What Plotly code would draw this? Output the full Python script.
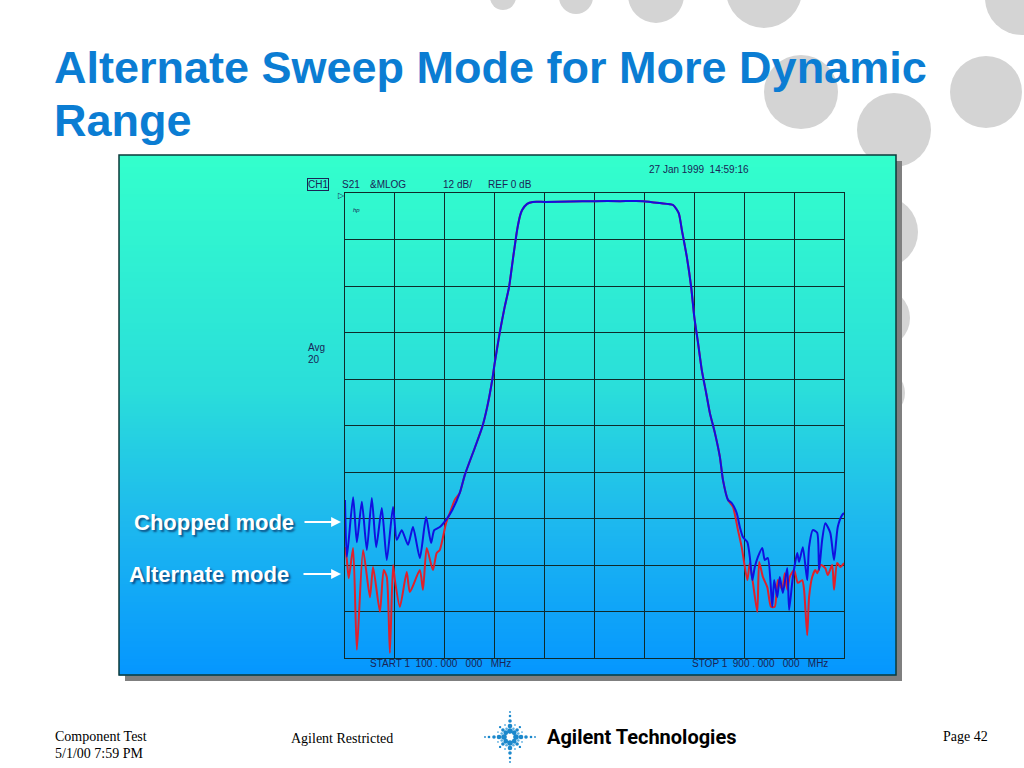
import math
import plotly.graph_objects as go

# ---------------- data ----------------
# Chopped mode (blue) - noise floor left of the passband
blue_left_f = [1100, 1103, 1113, 1119, 1127, 1135, 1143, 1150, 1159, 1167, 1177,
               1183, 1191, 1201, 1209, 1220, 1230, 1238, 1243, 1252, 1264, 1272]
blue_left_db = [-79.2, -93.9, -78.5, -90.1, -79.7, -92.1, -78.7, -91.4, -81.3, -94.7, -81.0,
                -89.5, -87.0, -90.8, -86.2, -94.2, -83.6, -90.3, -87.0, -86.2, -83.9, -81.8]

# Alternate mode (red) - noise floor left of the passband
red_left_f = [1100, 1103, 1106, 1113, 1119, 1129, 1140, 1145, 1156, 1162, 1167, 1172, 1177,
              1180, 1188, 1199, 1204, 1220, 1225, 1231, 1241, 1247, 1252, 1262, 1268, 1276]
red_left_db = [-91.4, -94.7, -99.4, -91.6, -117.9, -92.1, -104.3, -96.5, -108.1, -97.3, -99.1,
               -118.7, -96.0, -99.9, -106.8, -97.8, -103.0, -97.3, -102.4, -91.6, -97.3,
               -92.9, -92.1, -85.2, -82.6, -79.2]

# Filter response common to both modes
shared_f = [1284, 1292, 1308, 1320, 1328, 1336, 1340, 1348, 1356, 1363, 1369, 1376, 1381,
            1384, 1392, 1401, 1421, 1461, 1501, 1541, 1578, 1605, 1626, 1635, 1640, 1648,
            1655, 1660, 1666, 1672, 1679, 1685, 1693, 1701, 1706]
shared_db = [-77.4, -72.8, -65.8, -60.4, -55.2, -48.3, -43.9, -36.1, -29.4, -24.3, -17.3,
             -9.5, -5.7, -4.4, -2.8, -2.3, -2.3, -2.2, -2.1, -2.1, -2.1, -2.6, -3.1, -5.2,
             -9.5, -16.5, -24.3, -32.0, -38.7, -45.7, -51.6, -56.8, -61.9, -68.1, -74.1]

# Chopped mode (blue) - noise floor right of the passband
blue_right_f = [1714, 1720, 1728, 1733, 1738, 1745, 1749, 1753, 1757, 1762, 1769, 1773,
                1778, 1785, 1788, 1793, 1797, 1802, 1809, 1812, 1818, 1825, 1828, 1834,
                1841, 1844, 1850, 1857, 1860, 1865, 1870, 1878, 1884, 1890, 1897, 1900]
blue_right_db = [-79.2, -80.0, -82.6, -86.2, -88.8, -90.1, -93.9, -99.9, -96.5, -93.9, -91.6,
                 -94.7, -94.2, -106.8, -99.9, -104.3, -99.1, -103.2, -96.8, -107.6, -99.1,
                 -92.9, -95.2, -91.4, -99.9, -91.4, -87.0, -87.7, -97.3, -89.5, -85.2,
                 -87.7, -94.7, -86.2, -83.1, -82.6]

# Alternate mode (red) - noise floor right of the passband
red_right_f = [1714, 1722, 1730, 1736, 1745, 1749, 1754, 1761, 1764, 1770, 1777, 1783,
               1789, 1794, 1801, 1805, 1809, 1813, 1820, 1826, 1833, 1836, 1841, 1844,
               1849, 1854, 1857, 1863, 1870, 1874, 1881, 1884, 1889, 1894, 1900]
red_right_db = [-79.2, -81.0, -87.0, -91.4, -99.9, -95.5, -100.6, -108.1, -95.2, -99.1,
                -101.7, -106.8, -106.8, -99.9, -102.4, -98.1, -102.4, -99.1, -97.3, -100.6,
                -99.9, -102.4, -114.1, -104.3, -99.1, -97.3, -98.1, -96.0, -96.8, -98.6,
                -96.0, -102.4, -95.5, -96.5, -95.5]

start_mhz = 1100
stop_mhz = 1900
scale_db = 12
ref_db = 0
n_div = 10

title_lines = ["Alternate Sweep Mode for More Dynamic", "Range"]
header_text = ["CH1", "S21", "&MLOG", "12 dB/", "REF 0 dB"]
timestamp = "27 Jan 1999  14:59:16"
start_label = "START 1\u00a0 100\u00a0.\u00a0000\u00a0\u00a0 000\u00a0\u00a0 MHz"
stop_label = "STOP 1\u00a0 900\u00a0.\u00a0000\u00a0\u00a0 000\u00a0\u00a0 MHz"

# ---------------- helpers ----------------
W, H = 1024, 768


def fx(x):
    return x / W


def fy(y):
    return 1 - y / H


shapes = []

# background decorative grey circles
circles = [(503, -3, 13), (576, -3, 17), (656, -5, 28), (764, -10, 38), (1022, -2, 37),
           (801, 92, 37), (986, 92, 36), (894, 130, 37), (882, 232, 36), (880, 318, 30),
           (880, 393, 25)]
for cx, cy, r in circles:
    shapes.append(dict(type="circle", xref="paper", yref="paper",
                       x0=fx(cx - r), x1=fx(cx + r), y0=fy(cy + r), y1=fy(cy - r),
                       fillcolor="#D4D4D4", line=dict(width=0), layer="below"))

# panel shadow
PX0, PX1, PY0, PY1 = 119, 896, 155, 675
shapes.append(dict(type="rect", xref="paper", yref="paper",
                   x0=fx(PX0 + 6), x1=fx(PX1 + 6), y0=fy(PY1 + 6), y1=fy(PY0 + 6),
                   fillcolor="#7F7F7F", line=dict(width=0), layer="below"))

# gradient panel built from thin strips
stops = [(0.0, (51, 255, 204)), (0.45, (42, 222, 218)), (0.7, (30, 185, 238)), (1.0, (5, 150, 255))]


def grad(t):
    for (t0, c0), (t1, c1) in zip(stops[:-1], stops[1:]):
        if t <= t1:
            u = (t - t0) / (t1 - t0)
            return tuple(round(a + (b - a) * u) for a, b in zip(c0, c1))
    return stops[-1][1]


step = 3
y = PY0
while y < PY1:
    y2 = min(y + step, PY1)
    t = ((y + y2) / 2 - PY0) / (PY1 - PY0)
    c = grad(t)
    shapes.append(dict(type="rect", xref="paper", yref="paper",
                       x0=fx(PX0), x1=fx(PX1), y0=fy(y2 + 0.6), y1=fy(y),
                       fillcolor="rgb(%d,%d,%d)" % c, line=dict(width=0), layer="below"))
    y = y2
shapes.append(dict(type="rect", xref="paper", yref="paper",
                   x0=fx(PX0), x1=fx(PX1), y0=fy(PY1), y1=fy(PY0),
                   fillcolor="rgba(0,0,0,0)", line=dict(color="#0B3A3A", width=1.5), layer="below"))

# Agilent spark logo (decorative)
LX, LY = 510, 737
spark_col = "#1B88CC"
for k in range(8):
    ang = k * math.pi / 4
    main = (k % 2 == 0)
    dists = [6, 11, 16, 21, 25] if main else [6, 10, 14]
    sizes = [2.8, 2.3, 1.8, 1.3, 0.9] if main else [2.4, 1.8, 1.2]
    for d, s in zip(dists, sizes):
        cx = LX + d * math.cos(ang)
        cy = LY - d * math.sin(ang)
        shapes.append(dict(type="circle", xref="paper", yref="paper",
                           x0=fx(cx - s), x1=fx(cx + s), y0=fy(cy + s), y1=fy(cy - s),
                           fillcolor=spark_col, line=dict(width=0), layer="above"))
for k in range(8):
    ang = k * math.pi / 4 + math.pi / 8
    for d, s in zip([9, 13], [1.3, 0.9]):
        cx = LX + d * math.cos(ang)
        cy = LY - d * math.sin(ang)
        shapes.append(dict(type="circle", xref="paper", yref="paper",
                           x0=fx(cx - s), x1=fx(cx + s), y0=fy(cy + s), y1=fy(cy - s),
                           fillcolor="#5AAEE0", line=dict(width=0), layer="above"))

# ---------------- figure ----------------
fig = go.Figure()
fig.add_trace(go.Scatter(
    x=red_left_f + shared_f + red_right_f,
    y=red_left_db + shared_db + red_right_db,
    mode="lines", name="Alternate mode",
    line=dict(color="#E0212B", width=2, shape="spline", smoothing=0.6),
    hoverinfo="skip", showlegend=False))
fig.add_trace(go.Scatter(
    x=blue_left_f + shared_f + blue_right_f,
    y=blue_left_db + shared_db + blue_right_db,
    mode="lines", name="Chopped mode",
    line=dict(color="#1010E0", width=2, shape="spline", smoothing=0.6),
    hoverinfo="skip", showlegend=False))

GX0, GX1, GY0, GY1 = 345, 844, 193, 658
grid_col = "#0E2A2A"

ann = []
sans = "Liberation Sans, Arial, Helvetica, sans-serif"
serif = "Liberation Serif, Times New Roman, serif"
navy = "#1A2456"


def text(x, y, s, size, color=navy, family=sans, xanchor="left", **kw):
    d = dict(x=fx(x), y=fy(y), xref="paper", yref="paper", text=s, showarrow=False,
             xanchor=xanchor, yanchor="middle", font=dict(family=family, size=size, color=color))
    d.update(kw)
    ann.append(d)


# title
text(52, 68, "<b>%s</b>" % title_lines[0], 45, color="#0B7DD3")
text(52, 120, "<b>%s</b>" % title_lines[1], 45, color="#0B7DD3")

# instrument annotations
text(647, 169, timestamp, 10)
text(307, 184, header_text[0], 10, bordercolor=navy, borderwidth=1, borderpad=0)
text(340, 184, header_text[1], 10)
text(368, 184, header_text[2], 10)
text(441, 184, header_text[3], 10)
text(486, 184, header_text[4], 10)
text(347, 195, "\u25b7", 8, xanchor="right")
text(351, 210, "<i>hp</i>", 6)
text(306, 347, "Avg", 10)
text(306, 359, "20", 10)
text(368, 663, start_label, 10)
text(690, 663, stop_label, 10)

# mode labels with arrows
shadow = "2px 2px 2px rgba(0,0,50,0.55)"
for label, lx, ly, tail in [("Chopped mode", 132, 522, 303), ("Alternate mode", 127, 574, 302)]:
    ann.append(dict(x=fx(lx), y=fy(ly), xref="paper", yref="paper", text="<b>%s</b>" % label,
                    showarrow=False, xanchor="left", yanchor="middle",
                    font=dict(family=sans, size=22, color="white", shadow=shadow)))
    ann.append(dict(x=fx(341), y=fy(ly), xref="paper", yref="paper", text="",
                    showarrow=True, ax=tail - 341, ay=0, axref="pixel", ayref="pixel",
                    arrowhead=2, arrowsize=0.9, arrowwidth=2.2, arrowcolor="white"))

# footer
text(53, 736, "Component Test", 14, color="black", family=serif)
text(53, 753, "5/1/00 7:59 PM", 14, color="black", family=serif)
text(289, 738, "Agilent Restricted", 14, color="black", family=serif)
text(941, 736, "Page 42", 14, color="black", family=serif)
text(545, 737, "<b>Agilent Technologies</b>", 20, color="black",
     family="Roboto, Liberation Sans, Arial, sans-serif")

fig.update_layout(
    width=W, height=H,
    margin=dict(l=0, r=0, t=0, b=0),
    paper_bgcolor="white",
    plot_bgcolor="rgba(0,0,0,0)",
    shapes=shapes,
    annotations=ann,
    showlegend=False,
    xaxis=dict(domain=[GX0 / W, GX1 / W], range=[start_mhz, stop_mhz],
               tick0=start_mhz, dtick=(stop_mhz - start_mhz) / n_div,
               showgrid=True, gridcolor=grid_col, gridwidth=1.3,
               showticklabels=False, ticks="", zeroline=False,
               showline=True, linecolor=grid_col, linewidth=1.3, mirror=True, fixedrange=True),
    yaxis=dict(domain=[1 - GY1 / H, 1 - GY0 / H], range=[ref_db - scale_db * n_div, ref_db],
               tick0=ref_db, dtick=scale_db,
               showgrid=True, gridcolor=grid_col, gridwidth=1.3,
               showticklabels=False, ticks="", zeroline=False,
               showline=True, linecolor=grid_col, linewidth=1.3, mirror=True, fixedrange=True),
)

fig.write_html("out.html", config={"displayModeBar": False},
               post_script="document.body.style.margin='0';document.body.style.overflow='hidden';")
